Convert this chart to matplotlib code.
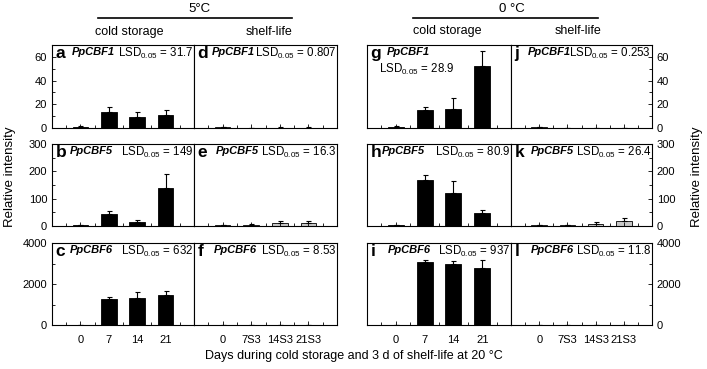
"""PpCBF1/5/6 relative expression at 5 and 0 C, cold storage vs shelf-life."""

import matplotlib

matplotlib.use("Agg")
import matplotlib.pyplot as plt
from matplotlib.ticker import MultipleLocator

plt.rcParams["font.family"] = ["Liberation Sans", "DejaVu Sans"]
plt.rcParams["mathtext.fontset"] = "custom"
plt.rcParams["mathtext.rm"] = "Liberation Sans"

DAYS_COLD = ["0", "7", "14", "21"]
DAYS_SHELF = ["0", "7S3", "14S3", "21S3"]

# 5 C
cbf1_5c_cold = [1.0, 13.6, 9.4, 11.1]
cbf1_5c_cold_err = [0.4, 3.8, 3.7, 4.0]
cbf1_5c_shelf = [0.8, 0.1, 0.4, 0.4]
cbf1_5c_shelf_err = [0.1, 0.05, 0.1, 0.1]
cbf5_5c_cold = [3, 44, 13, 138]
cbf5_5c_cold_err = [1, 12, 9, 52]
cbf5_5c_shelf = [2, 4, 10, 10]
cbf5_5c_shelf_err = [1, 3, 7, 8]
cbf6_5c_cold = [5, 1250, 1330, 1440]
cbf6_5c_cold_err = [2, 95, 260, 230]
cbf6_5c_shelf = [3, 5, 8, 8]
cbf6_5c_shelf_err = [1, 2, 3, 3]

# 0 C
cbf1_0c_cold = [1.0, 15.3, 16.1, 52.4]
cbf1_0c_cold_err = [0.3, 2.2, 9.1, 12.5]
cbf1_0c_shelf = [0.8, 0.1, 0.1, 0.1]
cbf1_0c_shelf_err = [0.1, 0.05, 0.05, 0.05]
cbf5_0c_cold = [3, 167, 121, 47]
cbf5_0c_cold_err = [1, 20, 45, 12]
cbf5_0c_shelf = [2, 3, 7, 19]
cbf5_0c_shelf_err = [0.5, 1, 6, 11]
cbf6_0c_cold = [5, 3060, 2990, 2780]
cbf6_0c_cold_err = [2, 100, 120, 370]
cbf6_0c_shelf = [3, 5, 8, 8]
cbf6_0c_shelf_err = [1, 2, 3, 3]

GENES = ["PpCBF1", "PpCBF5", "PpCBF6"]
Y_MAX = [70, 300, 4000]
Y_MAJOR = [20, 100, 2000]
Y_MINOR = [10, 50, 1000]

# columns: 5C cold, 5C shelf, 0C cold, 0C shelf
LETTERS = [["a", "d", "g", "j"], ["b", "e", "h", "k"], ["c", "f", "i", "l"]]
LSD = [["31.7", "0.807", "28.9", "0.253"],
       ["149", "16.3", "80.9", "26.4"],
       ["632", "8.53", "937", "11.8"]]
VALUES = [
    [cbf1_5c_cold, cbf1_5c_shelf, cbf1_0c_cold, cbf1_0c_shelf],
    [cbf5_5c_cold, cbf5_5c_shelf, cbf5_0c_cold, cbf5_0c_shelf],
    [cbf6_5c_cold, cbf6_5c_shelf, cbf6_0c_cold, cbf6_0c_shelf],
]
ERRORS = [
    [cbf1_5c_cold_err, cbf1_5c_shelf_err, cbf1_0c_cold_err, cbf1_0c_shelf_err],
    [cbf5_5c_cold_err, cbf5_5c_shelf_err, cbf5_0c_cold_err, cbf5_0c_shelf_err],
    [cbf6_5c_cold_err, cbf6_5c_shelf_err, cbf6_0c_cold_err, cbf6_0c_shelf_err],
]

W, H = 707, 369
col_px = [(52, 142), (194, 143), (367, 144), (511, 141)]
row_px = [(45, 128), (144, 226), (243, 325)]
gene_x = [[0.14, 0.126, 0.14, 0.12],
          [0.127, 0.154, 0.104, 0.142],
          [0.127, 0.14, 0.146, 0.142]]

fig = plt.figure(figsize=(W / 100, H / 100), dpi=100)

for r in range(3):
    top, bottom = row_px[r]
    for c in range(4):
        left, width = col_px[c]
        ax = fig.add_axes([left / W, 1 - bottom / H, width / W, (bottom - top) / H])
        x = list(range(4))
        shelf = c in (1, 3)
        ax.bar(x, VALUES[r][c], width=0.55,
               color="#c8c8c8" if shelf else "black",
               edgecolor="black", linewidth=0.6)
        ax.errorbar(x, VALUES[r][c], yerr=[[0] * 4, ERRORS[r][c]], fmt="none",
                    ecolor="black", elinewidth=0.8, capsize=1.8, capthick=0.8)
        ax.set_xlim(-1, 4)
        ax.set_ylim(0, Y_MAX[r])
        ax.yaxis.set_major_locator(MultipleLocator(Y_MAJOR[r]))
        ax.yaxis.set_minor_locator(MultipleLocator(Y_MINOR[r]))
        ax.set_xticks(x)
        ax.set_xticks([-0.5, 0.5, 1.5, 2.5, 3.5], minor=True)
        ax.tick_params(which="both", direction="in", labelsize=8, width=0.6)
        ax.tick_params(which="major", length=3)
        ax.tick_params(which="minor", length=2)
        for sp in ax.spines.values():
            sp.set_linewidth(0.8)

        if r == 2:
            ax.set_xticklabels(DAYS_SHELF if shelf else DAYS_COLD)
            ax.tick_params(axis="x", pad=7)
        else:
            ax.set_xticklabels([])

        if c == 0:
            ax.tick_params(axis="y", left=True, right=False, labelleft=True)
        elif c == 3:
            ax.yaxis.tick_right()
            ax.tick_params(axis="y", which="both", direction="in")
        else:
            ax.tick_params(axis="y", which="both", left=False, labelleft=False)

        ytext = 0.90
        ax.text(0.025, ytext, LETTERS[r][c], transform=ax.transAxes,
                fontsize=12.5, fontweight="bold", ha="left", va="center")
        ax.text(gene_x[r][c], ytext + 0.015, GENES[r], transform=ax.transAxes,
                fontsize=8, fontweight="bold", fontstyle="italic",
                ha="left", va="center")
        lsd = "LSD$_{0.05}$ = " + LSD[r][c]
        if LETTERS[r][c] == "g":
            ax.text(0.08, 0.70, lsd, transform=ax.transAxes, fontsize=8.3,
                    ha="left", va="center")
        else:
            ax.text(0.995, ytext, lsd, transform=ax.transAxes, fontsize=8.3,
                    ha="right", va="center")

# headers
for cx, line, title in [(199, (98, 292), "5°C"), (512, (413, 598), "0 °C")]:
    fig.text(cx / W, 1 - 9 / H, title, fontsize=9.5, ha="center", va="center")
    fig.add_artist(plt.Line2D([line[0] / W, line[1] / W], [1 - 18 / H] * 2,
                              color="black", linewidth=1.2))
fig.text(129 / W, 1 - 32 / H, "cold storage", fontsize=9, ha="center", va="center")
fig.text(269 / W, 1 - 32 / H, "shelf-life", fontsize=9, ha="center", va="center")
fig.text(447 / W, 1 - 31 / H, "cold storage", fontsize=9, ha="center", va="center")
fig.text(578 / W, 1 - 31 / H, "shelf-life", fontsize=9, ha="center", va="center")

fig.text(10 / W, 0.52, "Relative intensity", rotation=90, fontsize=9.5,
         ha="center", va="center")
fig.text(697 / W, 0.52, "Relative intensity", rotation=90, fontsize=9.5,
         ha="center", va="center")
fig.text(354 / W, 1 - 356 / H, "Days during cold storage and 3 d of shelf-life at 20 °C",
         fontsize=9, ha="center", va="center")

fig.savefig("out.png", dpi=100)
